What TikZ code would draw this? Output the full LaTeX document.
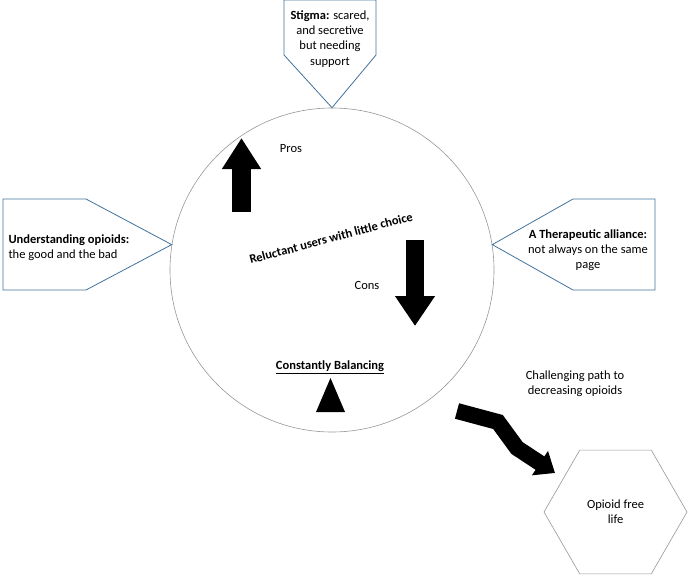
\documentclass[tikz,border=0pt]{standalone}
\usepackage{fontspec}
\setmainfont{Carlito}
\usetikzlibrary{arrows.meta,calc,positioning,shapes.geometric}
\definecolor{calloutblue}{RGB}{65,113,156}
\definecolor{ringgray}{RGB}{150,150,150}

\begin{document}
\begin{tikzpicture}[x=1pt,y=-1pt,
  every node/.style={font=\fontsize{12.5}{15.2}\selectfont},
  callout/.style={draw=calloutblue,line width=0.8pt},
  blockarrow/.style={line width=#1,line join=miter,draw=black}]
\useasboundingbox (0,0) rectangle (688,578);

% Central circle
\node[circle,draw=ringgray,line width=0.6pt,minimum size=324pt,inner sep=0pt] (ring) at (332,270) {};

% Callouts pointing at the circle
\draw[callout] (284,0) -- (376,0) -- (376,55) -- (ring.north) -- (284,55) -- cycle;
\draw[callout] (3,199) -- (86,199) -- (ring.171) -- (86,290) -- (3,290) -- cycle;
\draw[callout] (655,199) -- (573,199) -- (ring.9) -- (573,290) -- (655,290) -- cycle;
\node[align=center] (stigma) at (330,39) {\textbf{Stigma:} scared,\\and secretive\\but needing\\support};
\node[align=left,anchor=west] (understand) at (5,248) {\textbf{Understanding opioids:}\\the good and the bad};
\node[align=center] (alliance) at (588,250) {\textbf{A Therapeutic alliance:}\\not always on the same\\page};

% Inside the circle
\node (pros) at (291,149) {Pros};
\node (cons) at (367,285) {Cons};
\node[rotate=15] (reluctant) at (331,238) {\textbf{Reluctant users with little choice}};
\node (balance) at (330,367) {\textbf{\underline{Constantly Balancing}}};
\fill (316,412) -- (330.5,378) -- (345,412) -- cycle;

% Pros and cons arrows
\coordinate (prosbase) at (241.5,212);
\coordinate (prostip) at (241.5,138);
\coordinate (consbase) at (415,240);
\coordinate (constip) at (415,326);
\draw[blockarrow=19pt,-{Triangle[length=31pt,width=37pt]}] (prosbase) -- (prostip);
\draw[blockarrow=18pt,-{Triangle[length=30pt,width=38pt]}] (consbase) -- (constip);

% Path out of the circle
\node[align=center] (path) at (575,384) {Challenging path to\\decreasing opioids};
\coordinate (pathstart) at (457,411);
\coordinate (pathend) at (555,473);
\draw[blockarrow=16pt,-{Triangle[length=18pt,width=28pt]}]
  (pathstart) -- (498,422) -- (517,448) -- (pathend);
\node[regular polygon,regular polygon sides=6,draw=ringgray,line width=0.6pt,
  minimum size=143pt,inner sep=0pt,align=center] (goal) at (615.5,512) {Opioid free\\life};
\end{tikzpicture}
\end{document}
